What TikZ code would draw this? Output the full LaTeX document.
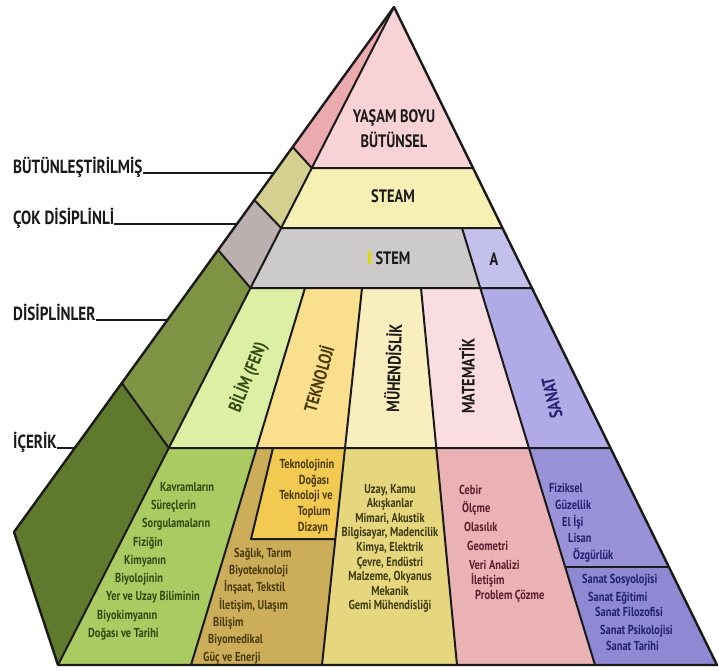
\documentclass[tikz,border=0pt]{standalone}
\usepackage{fontspec}
\setmainfont{PT Sans}[FakeStretch=0.8]
\definecolor{lpink}{HTML}{EBAAAE}
\definecolor{ltan}{HTML}{D5D08F}
\definecolor{lmauve}{HTML}{BBAFAF}
\definecolor{lolive}{HTML}{7E9444}
\definecolor{ldark}{HTML}{5F7A2C}
\definecolor{fpink}{HTML}{F8D2D4}
\definecolor{fsteam}{HTML}{F6F0B4}
\definecolor{fstem}{HTML}{CCCACB}
\definecolor{fa}{HTML}{C4C0EC}
\definecolor{dbil}{HTML}{DDEFA2}
\definecolor{dtek}{HTML}{F9DF8E}
\definecolor{dmuh}{HTML}{F8EEBE}
\definecolor{dmat}{HTML}{F9DDE0}
\definecolor{dsan}{HTML}{B0AAE6}
\definecolor{cbil}{HTML}{A9CB62}
\definecolor{ctek}{HTML}{CBAD5A}
\definecolor{cbox}{HTML}{F2CA52}
\definecolor{cmuh}{HTML}{E6D67E}
\definecolor{cmat}{HTML}{EAB2B4}
\definecolor{csanA}{HTML}{9992D8}
\definecolor{csanB}{HTML}{8F88D2}
\definecolor{tick}{HTML}{E0D800}
\definecolor{bilt}{HTML}{2E4A12}
\definecolor{tekt}{HTML}{4A3A0A}
\definecolor{muht}{HTML}{3C3A12}
\definecolor{matt}{HTML}{5A1E2E}
\definecolor{sant}{HTML}{22226E}
\definecolor{ink}{HTML}{1A1A1A}
\begin{document}
\begin{tikzpicture}[x=1pt,y=-1pt,
  edge/.style={line width=2pt,line join=round,draw=ink},
  lline/.style={line width=2pt,draw=ink},
  lab/.style={font=\fontsize{18}{20}\selectfont\bfseries,inner sep=0pt,text=ink},
  side/.style={font=\fontsize{19}{21}\selectfont\bfseries,inner sep=0pt,text=ink,anchor=base west},
  disc/.style={font=\fontsize{18}{20}\selectfont\bfseries,inner sep=0pt,text=ink},
  ct/.style={font=\fontsize{13}{15}\selectfont\bfseries,inner sep=0pt,anchor=base west},
  cc/.style={font=\fontsize{13}{15}\selectfont\bfseries,inner sep=0pt,anchor=base},
]
\useasboundingbox (0,0) rectangle (719,670);
\fill[white] (0,0) rectangle (719,670);
% coordinates
\coordinate (A) at (394,7);
\coordinate (O1) at (292.7,147);
\coordinate (O2) at (254.3,200);
\coordinate (O3) at (218.1,250);
\coordinate (O4) at (121.8,383);
\coordinate (O5) at (14,532);
\coordinate (L1) at (311.8,168);
\coordinate (L2) at (281.2,228);
\coordinate (L3) at (250.5,288);
\coordinate (L4) at (168.8,448);
\coordinate (L5) at (58,665);
\coordinate (R1) at (473,168);
\coordinate (R2) at (502.5,228);
\coordinate (R3) at (531.9,288);
\coordinate (R4) at (610.5,448);
\coordinate (Rk) at (668.9,567);
\coordinate (R5) at (717,665);
\coordinate (D1t) at (305,288);
\coordinate (D1m) at (256.6,448);
\coordinate (D1b) at (191,665);
\coordinate (D2t) at (362,288);
\coordinate (D2m) at (345,448);
\coordinate (D2b) at (322,665);
\coordinate (D3t) at (421,288);
\coordinate (D3m) at (436.3,448);
\coordinate (D3b) at (457,665);
\coordinate (D4s) at (462,228);
\coordinate (D4t) at (480.3,288);
\coordinate (D4m) at (529,448);
\coordinate (D4k) at (565.2,567);
\coordinate (D4b) at (595,665);
\coordinate (B1) at (273,448);
\coordinate (B2) at (251,539);
\coordinate (B3) at (335.4,539);
% left face
\fill[lpink] (A)--(O1)--(L1)--cycle;
\fill[ltan] (O1)--(O2)--(L2)--(L1)--cycle;
\fill[lmauve] (O2)--(O3)--(L3)--(L2)--cycle;
\fill[lolive] (O3)--(O4)--(L4)--(L3)--cycle;
\fill[ldark] (O4)--(O5)--(L5)--(L4)--cycle;
% front bands
\fill[fpink] (A)--(L1)--(R1)--cycle;
\fill[fsteam] (L1)--(L2)--(R2)--(R1)--cycle;
\fill[fstem] (L2)--(L3)--(D4t)--(D4s)--cycle;
\fill[fa] (D4s)--(D4t)--(R3)--(R2)--cycle;
\fill[dbil] (L3)--(L4)--(D1m)--(D1t)--cycle;
\fill[dtek] (D1t)--(D1m)--(D2m)--(D2t)--cycle;
\fill[dmuh] (D2t)--(D2m)--(D3m)--(D3t)--cycle;
\fill[dmat] (D3t)--(D3m)--(D4m)--(D4t)--cycle;
\fill[dsan] (D4t)--(D4m)--(R4)--(R3)--cycle;
\fill[cbil] (L4)--(L5)--(D1b)--(D1m)--cycle;
\fill[ctek] (D1m)--(D1b)--(D2b)--(D2m)--cycle;
\fill[cbox] (B1)--(B2)--(B3)--(D2m)--cycle;
\fill[cmuh] (D2m)--(D2b)--(D3b)--(D3m)--cycle;
\fill[cmat] (D3m)--(D3b)--(D4b)--(D4m)--cycle;
\fill[csanA] (D4m)--(D4k)--(Rk)--(R4)--cycle;
\fill[csanB] (D4k)--(D4b)--(R5)--(Rk)--cycle;
% lines
\draw[edge] (O1)--(L1)--(R1);
\draw[edge] (O2)--(L2)--(R2);
\draw[edge] (O3)--(L3)--(R3);
\draw[edge] (O4)--(L4)--(R4);
\draw[edge] (D1t)--(D1b);
\draw[edge] (D2t)--(D2b);
\draw[edge] (D3t)--(D3b);
\draw[edge] (D4s)--(D4b);
\draw[edge] (D4k)--(Rk);
\draw[edge] (B1)--(B2)--(B3);
\draw[edge] (A)--(L5);
\draw[edge,line width=2.4pt] (A)--(O5)--(L5)--(R5)--cycle;
% top labels
\node[lab] (ysm) at (394,118) {YAŞAM BOYU};
\node[lab] (btn) at (394,140) {BÜTÜNSEL};
\node[lab] (steam) at (393,196) {STEAM};
\node[lab] (stem) at (393,258) {STEM};
\node[lab] (aa) at (494,259) {A};
\fill[tick] (367.5,251) rectangle (370.5,264);
% side labels
\node[side] (s1) at (13,173) {BÜTÜNLEŞTİRİLMİŞ};
\draw[lline] (s1.base east) -- (273.8,173);
\node[side] (s2) at (13,224) {ÇOK DİSİPLİNLİ};
\draw[lline] (s2.base east) -- (236.9,224);
\node[side] (s3) at (13,320) {DİSİPLİNLER};
\draw[lline] (s3.base east) -- (167.4,320);
\node[side] (s4) at (13,448) {İÇERİK};
\draw[lline] (s4.base east) -- (74.8,448);
% discipline labels
\node[disc,rotate=68,text=bilt] (bil) at (248,377) {BİLİM (FEN)};
\node[disc,rotate=74,text=tekt] (tek) at (318,379) {TEKNOLOJİ};
\node[disc,rotate=88] (muh) at (393,368) {MÜHENDİSLİK};
\node[disc,rotate=90] (mat) at (467,376) {MATEMATİK};
\node[disc,rotate=103,text=sant] (san) at (552,398) {SANAT};
% content: bilim
\foreach \x/\y/\t [count=\i] in {160/491/Kavramların,151/509/Süreçlerin,142/527/Sorgulamaların,133/546/Fiziğin,124/564/Kimyanın,115/582/Biyolojinin,106/600/Yer ve Uzay Biliminin,97/619/Biyokimyanın,88/637/Doğası ve Tarihi}
  {\node[ct,text=bilt] (cb\i) at (\x,\y) {\t};}
% content: teknoloji
\foreach \x/\y/\t [count=\i] in {307/468/Teknolojinin,314/484/Doğası,306/499/Teknoloji ve,314/515/Toplum,313/531/Dizayn}
  {\node[cc,text=tekt] (cx\i) at (\x,\y) {\t};}
\foreach \x/\y/\t [count=\i] in {234/557/{Sağlık, Tarım},229/574/Biyoteknoloji,224/591/{İnşaat, Tekstil},219/609/{İletişim, Ulaşım},213/626/Bilişim,208/643/Biyomedikal,203/661/Güç ve Enerji}
  {\node[ct,text=tekt] (ct\i) at (\x,\y) {\t};}
% content: muhendislik
\foreach \y/\t [count=\i] in {493/{Uzay, Kamu},507.6/Akışkanlar,522.2/{Mimari, Akustik},536.8/{Bilgisayar, Madencilik},551.4/{Kimya, Elektrik},566/{Çevre, Endüstri},580.6/{Malzeme, Okyanus},595.2/Mekanik,609.8/Gemi Mühendisliği}
  {\node[cc,text=muht] (cm\i) at (390,\y) {\t};}
% content: matematik
\foreach \x/\y/\t [count=\i] in {459/494/Cebir,462/512/Ölçme,464/531/Olasılık,467/550/Geometri,469/569/Veri Analizi,471/584/İletişim,475/599/Problem Çözme}
  {\node[ct,text=matt] (ca\i) at (\x,\y) {\t};}
% content: sanat
\foreach \x/\y/\t [count=\i] in {549/492/Fiziksel,555/509/Güzellik,562/526/El İşi,568/542/Lisan,573/559/Özgürlük,582/583/Sanat Sosyolojisi,588/601/Sanat Eğitimi,595/616/Sanat Filozofisi,600/634/Sanat Psikolojisi,606/650/Sanat Tarihi}
  {\node[ct,text=sant] (cs\i) at (\x,\y) {\t};}
\end{tikzpicture}
\end{document}
